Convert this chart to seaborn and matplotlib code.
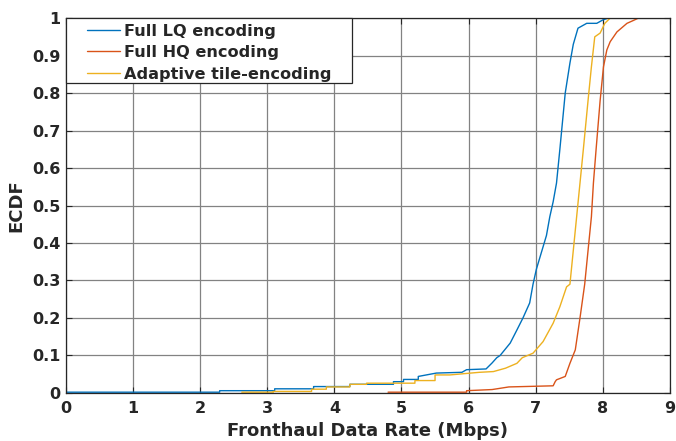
import numpy as np
import matplotlib
matplotlib.use("Agg")
import matplotlib.pyplot as plt
from matplotlib.patches import Rectangle
import seaborn as sns

# ECDF curves (x in Mbps, y = ECDF)
lq_x = [0, 2.29, 2.29, 3.11, 3.11, 3.69, 3.69, 4.23, 4.23, 4.88, 4.88, 5.03, 5.03,
        5.25, 5.25, 5.52, 5.9, 5.97, 6.26, 6.35, 6.42, 6.47, 6.62, 6.72, 6.81, 6.91,
        6.96, 7.01, 7.06, 7.16, 7.21, 7.26, 7.31, 7.36, 7.44, 7.51, 7.56, 7.63, 7.76,
        7.91, 8.0, 8.08]
lq_y = [0.002, 0.002, 0.006, 0.006, 0.011, 0.011, 0.017, 0.017, 0.023, 0.023, 0.03, 0.03,
        0.036, 0.036, 0.044, 0.053, 0.055, 0.062, 0.064, 0.08, 0.094, 0.10, 0.133, 0.168,
        0.20, 0.24, 0.29, 0.33, 0.36, 0.42, 0.47, 0.51, 0.56, 0.65, 0.80, 0.88, 0.93,
        0.973, 0.986, 0.986, 0.995, 1.0]

hq_x = [4.8, 5.97, 5.97, 6.35, 6.6, 7.26, 7.29, 7.31, 7.44, 7.51, 7.59, 7.66, 7.73,
        7.78, 7.83, 7.86, 7.9, 7.96, 8.01, 8.06, 8.11, 8.21, 8.36, 8.46, 8.53]
hq_y = [0.002, 0.002, 0.006, 0.009, 0.016, 0.019, 0.03, 0.035, 0.044, 0.079, 0.115,
        0.20, 0.29, 0.38, 0.47, 0.56, 0.65, 0.78, 0.87, 0.915, 0.937, 0.963,
        0.986, 0.994, 1.0]

ad_x = [2.62, 3.09, 3.09, 3.66, 3.66, 3.88, 3.88, 4.23, 4.23, 4.48, 4.48, 5.2, 5.2,
        5.5, 5.5, 5.72, 6.16, 6.37, 6.55, 6.72, 6.8, 6.96, 7.11, 7.26, 7.36, 7.46,
        7.51, 7.56, 7.61, 7.66, 7.71, 7.78, 7.83, 7.88, 7.96, 8.03, 8.11, 8.14]
ad_y = [0.002, 0.002, 0.004, 0.004, 0.01, 0.01, 0.016, 0.016, 0.023, 0.023, 0.026,
        0.026, 0.033, 0.033, 0.048, 0.048, 0.055, 0.057, 0.066, 0.079, 0.094, 0.106,
        0.137, 0.186, 0.23, 0.283, 0.29, 0.38, 0.47, 0.56, 0.65, 0.78, 0.87, 0.95,
        0.96, 0.986, 1.0, 1.0]

labels = ["Full LQ encoding", "Full HQ encoding", "Adaptive tile-encoding"]
colors = ["#0072BD", "#D95319", "#EDB120"]

sns.set_style("ticks")
plt.rcParams["font.family"] = ["DejaVu Sans"]
plt.rcParams["font.weight"] = "bold"

fig = plt.figure(figsize=(6.76, 4.41), dpi=100)
ax = fig.add_axes([0.0976, 0.109, 0.8934, 0.850])

for xs, ys, lab, col in zip([lq_x, hq_x, ad_x], [lq_y, hq_y, ad_y], labels, colors):
    sns.lineplot(x=xs, y=ys, ax=ax, color=col, linewidth=1.0, label=lab,
                 sort=False, estimator=None)

ax.set_xlim(0, 9)
ax.set_ylim(0, 1)
ax.set_xticks(range(0, 10))
ax.set_yticks(np.round(np.arange(0, 1.01, 0.1), 1))
ax.set_yticklabels(["0", "0.1", "0.2", "0.3", "0.4", "0.5", "0.6", "0.7", "0.8", "0.9", "1"])
ax.grid(True, color="#828282", linewidth=0.9)
ax.tick_params(direction="in", length=4, width=0.8, top=True, right=True,
               labelsize=11.5, colors="#262626")
ax.tick_params(axis="x", pad=6)
ax.tick_params(axis="y", pad=4)
for lbl in ax.get_xticklabels() + ax.get_yticklabels():
    lbl.set_fontweight("bold")
for s in ax.spines.values():
    s.set_color("#262626")
    s.set_linewidth(0.9)
ax.set_xlabel("Fronthaul Data Rate (Mbps)", fontsize=13, fontweight="bold",
              color="#262626", labelpad=4)
ax.set_ylabel("ECDF", fontsize=13, fontweight="bold", color="#262626", labelpad=5)

# legend box drawn separately so it can be wider than the entries (MATLAB style)
ax.add_patch(Rectangle((0, 0.8267), 0.4735, 0.1733, transform=ax.transAxes,
                       facecolor="white", edgecolor="#262626", linewidth=0.9,
                       zorder=4.5, clip_on=False))
leg = ax.legend(loc="upper left", bbox_to_anchor=(0.026, 0.998), borderaxespad=0,
                frameon=False, fontsize=11.6, handlelength=2.1,
                handletextpad=0.25, borderpad=0.3, labelspacing=0.4)
leg.set_zorder(5)
for t in leg.get_texts():
    t.set_fontweight("bold")

fig.savefig("out.png", dpi=100)
